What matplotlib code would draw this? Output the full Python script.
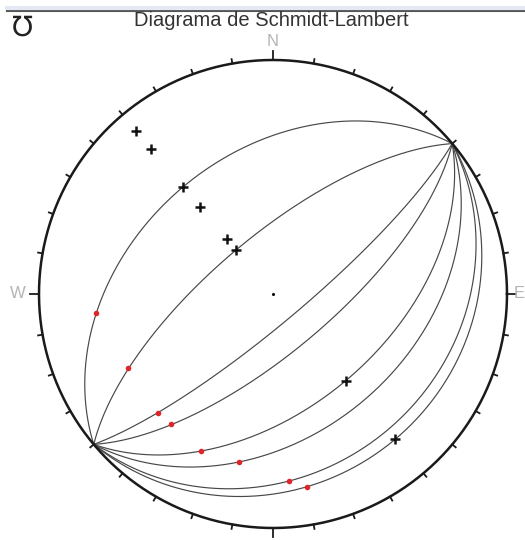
import numpy as np
import matplotlib.pyplot as plt

# planos: direccion de buzamiento y buzamiento (grados)
dip_dirs = [320, 320, 140, 140, 140, 140, 140, 140]
dips = [40, 70, 80, 70, 50, 40, 25, 20]

# lineaciones (puntos rojos): azimut y inmersion
lin_trend = [264, 243, 224, 218, 204.5, 191.5, 175, 170]
lin_plunge = [25, 31, 30, 30, 27, 27.5, 21, 17.5]

# punto central
center_trend = [0]
center_plunge = [90]

title = 'Diagrama de Schmidt-Lambert'
cardinals = ['N', 'E', 'S', 'W']


def project(trend, plunge):
    '''proyeccion de igual area, hemisferio inferior, radio 1'''
    trend = np.radians(np.asarray(trend, dtype=float))
    plunge = np.radians(np.asarray(plunge, dtype=float))
    r = np.sqrt(2) * np.sin((np.pi / 2 - plunge) / 2)
    return r * np.sin(trend), r * np.cos(trend)


def great_circle(dip_dir, dip):
    strike = np.radians(dip_dir - 90)
    dd = np.radians(dip_dir)
    d = np.radians(dip)
    t = np.linspace(0, np.pi, 400)
    s = np.array([np.sin(strike), np.cos(strike), 0.0])
    v = np.array([np.sin(dd) * np.cos(d), np.cos(dd) * np.cos(d), np.sin(d)])
    vec = np.outer(np.cos(t), s) + np.outer(np.sin(t), v)
    plunge = np.degrees(np.arcsin(np.clip(vec[:, 2], -1, 1)))
    trend = np.degrees(np.arctan2(vec[:, 0], vec[:, 1]))
    return project(trend, plunge)


def main():
    fig = plt.figure(figsize=(5.25, 5.4), dpi=100)
    ax = fig.add_axes([0, 0, 1, 1])
    # centro en pixel (273, 294), radio 234 px
    R = 234.0
    ax.set_xlim(-273 / R, (525 - 273) / R)
    ax.set_ylim((294 - 540) / R, 294 / R)
    ax.set_aspect('equal')
    ax.axis('off')

    # circulo primitivo
    a = np.linspace(0, 2 * np.pi, 720)
    ax.plot(np.cos(a), np.sin(a), color='#1a1a1a', lw=1.8, zorder=3)

    # marcas cada 10 grados
    for az in range(0, 360, 10):
        ar = np.radians(az)
        L = 9 / R if az % 90 == 0 else 4.5 / R
        ax.plot([np.sin(ar), (1 + L) * np.sin(ar)],
                [np.cos(ar), (1 + L) * np.cos(ar)],
                color='#1a1a1a', lw=1.3, zorder=3)

    # etiquetas N E W (la S queda fuera)
    ax.text(0, 1 + 18 / R, 'N', color='#b4b4b4', fontsize=12,
            family='Liberation Sans', ha='center', va='center')
    ax.text(-1 - 21 / R, 0, 'W', color='#b4b4b4', fontsize=12,
            family='Liberation Sans', ha='center', va='center')
    ax.text(252 / R, 0, 'E', color='#b4b4b4', fontsize=12,
            family='Liberation Sans', ha='right', va='center')

    # circulos mayores
    for dd, d in zip(dip_dirs, dips):
        x, y = great_circle(dd, d)
        ax.plot(x, y, color='#484848', lw=0.85, zorder=2)

    # polos de los planos (cruces)
    pole_trend = [(dd + 180) % 360 for dd in dip_dirs]
    pole_plunge = [90 - d for d in dips]
    px, py = project(pole_trend, pole_plunge)
    ax.plot(px, py, '+', color='#111111', ms=7.5, mew=1.8, zorder=4)

    # lineaciones
    lx, ly = project(lin_trend, lin_plunge)
    ax.plot(lx, ly, 'o', color='#e0252a', ms=4, mew=0, zorder=4)

    cx, cy = project(center_trend, center_plunge)
    ax.plot(cx, cy, '.', color='#111111', ms=2.5, zorder=4)

    # encabezado
    fig.add_artist(plt.Line2D([7 / 525, 1], [1 - 11 / 540, 1 - 11 / 540],
                              color='#555555', lw=1.5))
    fig.add_artist(plt.Line2D([7 / 525, 1], [1 - 8 / 540, 1 - 8 / 540],
                              color='#e6e8f6', lw=3))
    fig.text(271 / 525, 1 - 21 / 540, title, ha='center', va='center',
             fontsize=14.5, family='Liberation Sans', color='#333333')
    fig.text(23 / 525, 1 - 28 / 540, '\u2127', ha='center', va='center',
             fontsize=20, family='DejaVu Sans', color='#222222')

    fig.savefig('out.png', dpi=100)


if __name__ == '__main__':
    main()
